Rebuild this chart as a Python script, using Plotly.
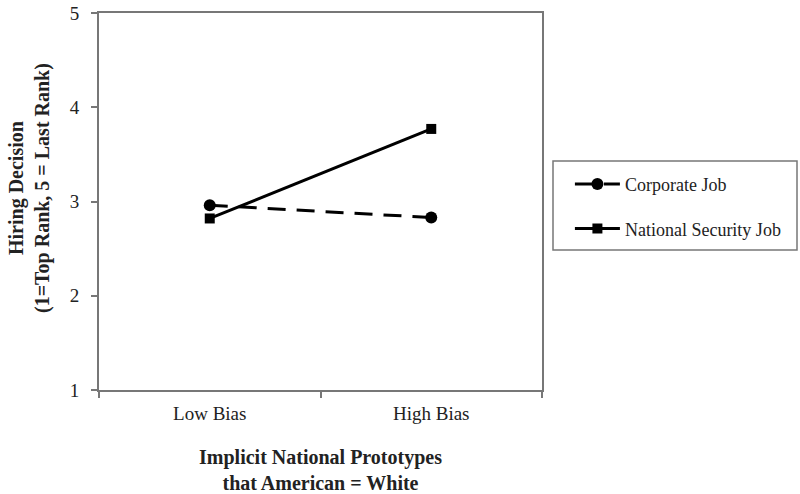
import plotly.graph_objects as go

categories = ["Low Bias", "High Bias"]
corporate = [2.96, 2.83]
national_security = [2.82, 3.77]
y_ticks = [1, 2, 3, 4, 5]

FONT = "Liberation Serif"

fig = go.Figure()
fig.add_trace(go.Scatter(
    x=categories, y=corporate, name="Corporate Job", mode="lines+markers",
    line=dict(color="black", width=3, dash="18px,11px"),
    marker=dict(symbol="circle", size=12, color="black"),
    legendgroup="a",
))
fig.add_trace(go.Scatter(
    x=categories, y=national_security, name="National Security Job", mode="lines+markers",
    line=dict(color="black", width=3),
    marker=dict(symbol="square", size=10, color="black"),
    legendgroup="b",
))

fig.update_layout(
    width=800, height=494,
    margin=dict(l=99, r=258, t=13, b=104, autoexpand=False),
    paper_bgcolor="white", plot_bgcolor="white",
    font=dict(family=FONT, color="#222", size=18),
    showlegend=True,
    legend=dict(
        x=1.063, y=0.487, xanchor="left", yanchor="middle",
        font=dict(family=FONT, size=18, color="#222"),
        bgcolor="rgba(0,0,0,0)", traceorder="grouped", tracegroupgap=18,
        itemwidth=45,
    ),
    xaxis=dict(
        type="category", range=[-0.5, 1.5], tickson="boundaries",
        ticks="outside", ticklen=6, tickcolor="#777", tickwidth=1.5,
        showline=True, linecolor="#777", linewidth=2, mirror=True,
        showgrid=False, zeroline=False, automargin=False,
        tickfont=dict(family=FONT, size=19), ticklabelstandoff=5,
        title=dict(text="<b>Implicit National Prototypes<br>that American = White</b>",
                   font=dict(family=FONT, size=20), standoff=33),
    ),
    yaxis=dict(
        range=[1, 5], tickvals=y_ticks, ticks="outside", ticklen=6,
        tickcolor="#777", tickwidth=1.5,
        showline=True, linecolor="#777", linewidth=2, mirror=True,
        showgrid=False, zeroline=False, automargin=False,
        tickfont=dict(family=FONT, size=19), ticklabelstandoff=8,
    ),
    annotations=[dict(
        text="<b>Hiring Decision<br>(1=Top Rank, 5 = Last Rank)</b>",
        xref="paper", yref="paper", x=(29 - 99) / 443, y=(390 - 188) / 377,
        xanchor="center", yanchor="middle", textangle=-90, showarrow=False,
        font=dict(family=FONT, size=20, color="#222"),
    )],
    shapes=[dict(type="rect", xref="paper", yref="paper",
                 x0=(553 - 99) / 443, x1=(797 - 99) / 443,
                 y0=(390 - 250) / 377, y1=(390 - 161) / 377,
                 line=dict(color="#777", width=1.5), fillcolor="rgba(0,0,0,0)")],
)

fig.write_html("out.html", config={"displayModeBar": False},
               post_script="document.body.style.margin='0';")
